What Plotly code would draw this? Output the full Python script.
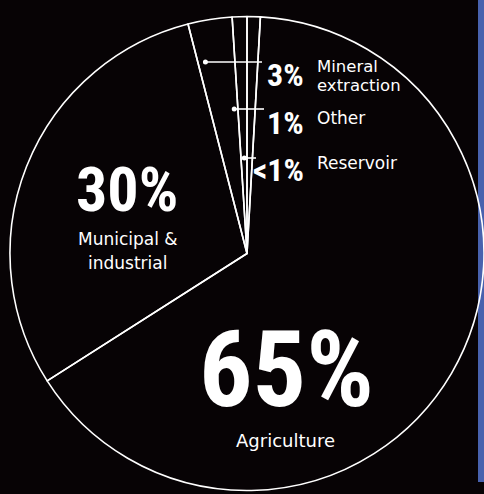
import numpy as np
import plotly.graph_objects as go

W, H = 484, 494

# Water use by sector, percent of total
labels = ["Reservoir", "Other", "Mineral extraction", "Municipal & industrial", "Agriculture"]
values = [0.9, 1, 3, 30, 65]
pct_text = ["<1%", "1%", "3%", "30%", "65%"]

BG = "#070305"
INK = "#ffffff"
PANEL = "#4862ae"
NARROW = "Roboto Condensed, Open Sans Condensed, DejaVu Sans Condensed, sans-serif"
SANS = "DejaVu Sans, Arial, sans-serif"

# pie placement in pixels (centre and radius)
CX, CY, R = 247, 253.5, 237


def px(x):
    return x / W


def py(y):
    return 1 - y / H


fig = go.Figure(go.Pie(
    labels=labels,
    values=values,
    sort=False,
    direction="counterclockwise",
    rotation=0,
    marker=dict(colors=["rgba(0,0,0,0)"] * len(values), line=dict(color=INK, width=1.6)),
    textinfo="none",
    hoverinfo="skip",
    showlegend=False,
    domain=dict(x=[px(CX - R), px(CX + R)], y=[py(CY + R), py(CY - R)]),
))

# mid-angle of each slice, measured counterclockwise from 12 o'clock
frac = np.cumsum(values) / np.sum(values)
start = np.concatenate([[0.0], frac[:-1]])
mid = (start + frac) / 2 * 2 * np.pi

shapes = [dict(type="rect", xref="paper", yref="paper", layer="below",
               x0=px(478), x1=1, y0=py(482), y1=1,
               fillcolor=PANEL, line=dict(width=0))]

# leader lines for the three thin slices: (slice index, row y, line end x)
leaders = [(0, 158, 256), (1, 109, 264), (2, 62, 262)]
for i, yrow, xend in leaders:
    xdot = CX - (CY - yrow) * np.tan(mid[i])
    shapes.append(dict(type="line", xref="paper", yref="paper",
                       x0=px(xdot), x1=px(xend), y0=py(yrow), y1=py(yrow),
                       line=dict(color=INK, width=1.6)))
    shapes.append(dict(type="circle", xref="paper", yref="paper",
                       x0=px(xdot - 2.5), x1=px(xdot + 2.5),
                       y0=py(yrow + 2.5), y1=py(yrow - 2.5),
                       fillcolor=INK, line=dict(width=0)))


def ann(text, x, y, size, family, xanchor="center", bold=False):
    return dict(text=text, x=px(x), y=py(y), xref="paper", yref="paper",
                xanchor=xanchor, yanchor="middle", showarrow=False,
                font=dict(family=family, size=size, color=INK,
                          weight="bold" if bold else "normal"))


annotations = [
    ann(pct_text[4], 286, 370, 106, NARROW, bold=True),
    ann("Agriculture", 285, 440, 18, SANS),
    ann(pct_text[3], 127, 189, 62, NARROW, bold=True),
    ann("Municipal &", 128, 239, 17, SANS),
    ann("industrial", 127, 263, 17, SANS),
    ann(pct_text[2], 306, 75, 32, NARROW, "right", True),
    ann("Mineral", 315, 66, 16.5, SANS, "left"),
    ann("extraction", 315, 86, 16.5, SANS, "left"),
    ann(pct_text[1], 306, 123, 32, NARROW, "right", True),
    ann("Other", 315, 118, 17, SANS, "left"),
    ann(pct_text[0], 306, 170, 32, NARROW, "right", True),
    ann("Reservoir", 315, 163, 17, SANS, "left"),
]

fig.update_layout(
    width=W, height=H,
    margin=dict(l=0, r=0, t=0, b=0),
    paper_bgcolor=BG, plot_bgcolor=BG,
    shapes=shapes, annotations=annotations,
)

fig.write_html("out.html")
